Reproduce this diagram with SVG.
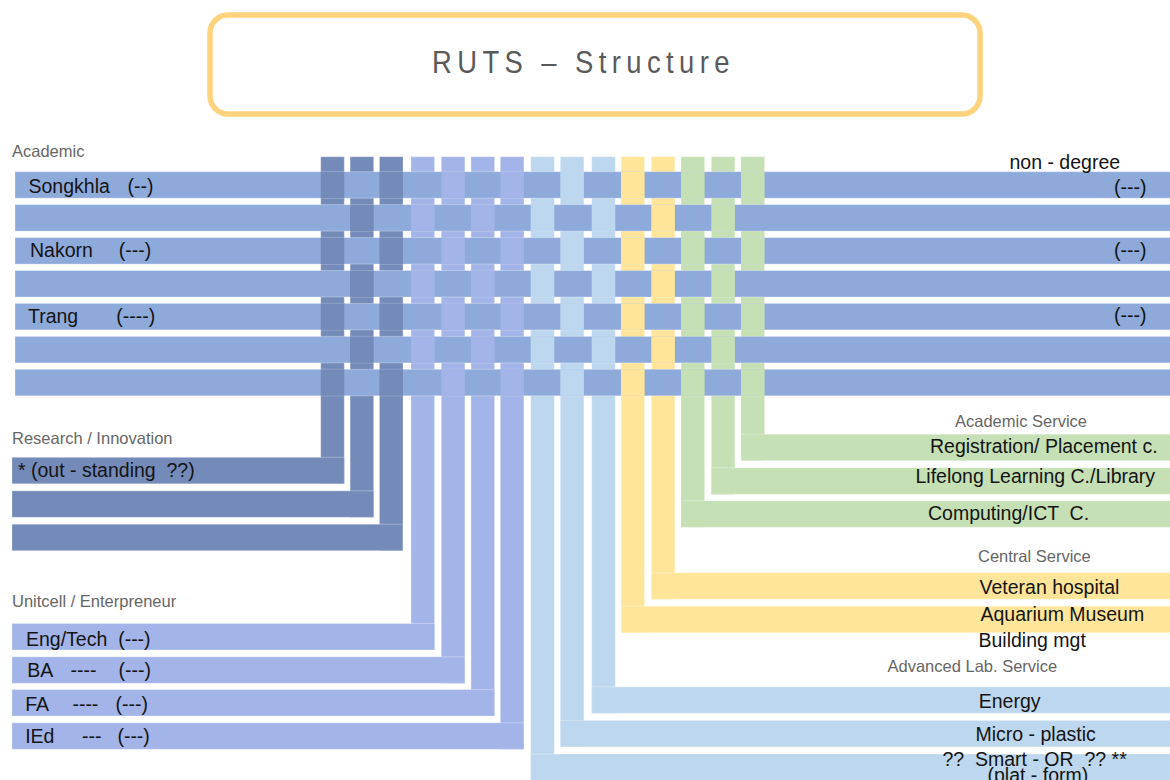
<svg xmlns="http://www.w3.org/2000/svg" width="1170" height="780" viewBox="0 0 1170 780" xml:space="preserve">
<style>
.ac{fill:#8eaadb}
.dk{fill:#748bb9}
.pu{fill:#a2b4e8}
.lb{fill:#bdd7ee}
.ye{fill:#ffe599}
.gr{fill:#c5e0b4}
.bar{stroke:#ffffff;stroke-opacity:0.3;stroke-width:1}
.t{font-family:"Liberation Sans",Arial,sans-serif;font-size:19.5px;fill:#141414;white-space:pre}
.g{font-family:"Liberation Sans",Arial,sans-serif;font-size:16.5px;fill:#666666;white-space:pre}
</style>
<rect width="1170" height="780" fill="#ffffff"/>

<g id="title">
<rect x="210" y="15" width="770" height="99" rx="18" ry="18" fill="#ffffff" stroke="#ffd37d" stroke-width="5.5"/>
<text transform="translate(432,73) scale(0.9,1)" font-family="Liberation Sans, Arial, sans-serif" font-size="30.5" letter-spacing="6" fill="#5a5a5a">RUTS – Structure</text>
</g>

<g id="columns">
<rect class="dk bar" x="320.7" y="156.7" width="23.6" height="327.1"/>
<rect class="dk bar" x="350.1" y="156.7" width="23.6" height="360.6"/>
<rect class="dk bar" x="379.4" y="156.7" width="23.6" height="394"/>
<rect class="pu bar" x="411" y="156.7" width="23.6" height="493.3"/>
<rect class="pu bar" x="441.3" y="156.7" width="23.6" height="526.6"/>
<rect class="pu bar" x="471" y="156.7" width="23.6" height="559.3"/>
<rect class="pu bar" x="500.3" y="156.7" width="23.6" height="592.6"/>
<rect class="lb bar" x="530.7" y="156.7" width="23.6" height="633.3"/>
<rect class="lb bar" x="560.3" y="156.7" width="23.6" height="590"/>
<rect class="lb bar" x="591.7" y="156.7" width="23.6" height="556.6"/>
<rect class="ye bar" x="621" y="156.7" width="23.6" height="476"/>
<rect class="ye bar" x="651.3" y="156.7" width="23.6" height="442.6"/>
<rect class="gr bar" x="681" y="156.7" width="23.6" height="370.6"/>
<rect class="gr bar" x="711.3" y="156.7" width="23.6" height="338"/>
<rect class="gr bar" x="741" y="156.7" width="23.6" height="304"/>
</g>

<g id="academic">
<g id="row1"><rect class="ac bar" x="15" y="171.7" width="1156" height="26.5"/></g>
<g id="row2"><rect class="ac bar" x="15" y="204.6" width="1156" height="26.5"/></g>
<g id="row3"><rect class="ac bar" x="15" y="237.6" width="1156" height="26.5"/></g>
<g id="row4"><rect class="ac bar" x="15" y="270.5" width="1156" height="26.5"/></g>
<g id="row5"><rect class="ac bar" x="15" y="303.4" width="1156" height="26.5"/></g>
<g id="row6"><rect class="ac bar" x="15" y="336.4" width="1156" height="26.5"/></g>
<g id="row7"><rect class="ac bar" x="15" y="369.3" width="1156" height="26.5"/></g>
</g>

<g id="weave-over">
<rect class="dk" x="320.7" y="171.7" width="23.6" height="26.5"/>
<rect class="dk" x="379.4" y="171.7" width="23.6" height="26.5"/>
<rect class="pu" x="441.3" y="171.7" width="23.6" height="26.5"/>
<rect class="pu" x="500.3" y="171.7" width="23.6" height="26.5"/>
<rect class="lb" x="560.3" y="171.7" width="23.6" height="26.5"/>
<rect class="ye" x="621" y="171.7" width="23.6" height="26.5"/>
<rect class="gr" x="681" y="171.7" width="23.6" height="26.5"/>
<rect class="gr" x="741" y="171.7" width="23.6" height="26.5"/>
<rect class="dk" x="350.1" y="204.6" width="23.6" height="26.5"/>
<rect class="pu" x="411" y="204.6" width="23.6" height="26.5"/>
<rect class="pu" x="471" y="204.6" width="23.6" height="26.5"/>
<rect class="lb" x="530.7" y="204.6" width="23.6" height="26.5"/>
<rect class="lb" x="591.7" y="204.6" width="23.6" height="26.5"/>
<rect class="ye" x="651.3" y="204.6" width="23.6" height="26.5"/>
<rect class="gr" x="711.3" y="204.6" width="23.6" height="26.5"/>
<rect class="dk" x="320.7" y="237.6" width="23.6" height="26.5"/>
<rect class="dk" x="379.4" y="237.6" width="23.6" height="26.5"/>
<rect class="pu" x="441.3" y="237.6" width="23.6" height="26.5"/>
<rect class="pu" x="500.3" y="237.6" width="23.6" height="26.5"/>
<rect class="lb" x="560.3" y="237.6" width="23.6" height="26.5"/>
<rect class="ye" x="621" y="237.6" width="23.6" height="26.5"/>
<rect class="gr" x="681" y="237.6" width="23.6" height="26.5"/>
<rect class="gr" x="741" y="237.6" width="23.6" height="26.5"/>
<rect class="dk" x="350.1" y="270.5" width="23.6" height="26.5"/>
<rect class="pu" x="411" y="270.5" width="23.6" height="26.5"/>
<rect class="pu" x="471" y="270.5" width="23.6" height="26.5"/>
<rect class="lb" x="530.7" y="270.5" width="23.6" height="26.5"/>
<rect class="lb" x="591.7" y="270.5" width="23.6" height="26.5"/>
<rect class="ye" x="651.3" y="270.5" width="23.6" height="26.5"/>
<rect class="gr" x="711.3" y="270.5" width="23.6" height="26.5"/>
<rect class="dk" x="320.7" y="303.4" width="23.6" height="26.5"/>
<rect class="dk" x="379.4" y="303.4" width="23.6" height="26.5"/>
<rect class="pu" x="441.3" y="303.4" width="23.6" height="26.5"/>
<rect class="pu" x="500.3" y="303.4" width="23.6" height="26.5"/>
<rect class="lb" x="560.3" y="303.4" width="23.6" height="26.5"/>
<rect class="ye" x="621" y="303.4" width="23.6" height="26.5"/>
<rect class="gr" x="681" y="303.4" width="23.6" height="26.5"/>
<rect class="gr" x="741" y="303.4" width="23.6" height="26.5"/>
<rect class="dk" x="350.1" y="336.4" width="23.6" height="26.5"/>
<rect class="pu" x="411" y="336.4" width="23.6" height="26.5"/>
<rect class="pu" x="471" y="336.4" width="23.6" height="26.5"/>
<rect class="lb" x="530.7" y="336.4" width="23.6" height="26.5"/>
<rect class="lb" x="591.7" y="336.4" width="23.6" height="26.5"/>
<rect class="ye" x="651.3" y="336.4" width="23.6" height="26.5"/>
<rect class="gr" x="711.3" y="336.4" width="23.6" height="26.5"/>
<rect class="dk" x="320.7" y="369.3" width="23.6" height="26.5"/>
<rect class="dk" x="379.4" y="369.3" width="23.6" height="26.5"/>
<rect class="pu" x="441.3" y="369.3" width="23.6" height="26.5"/>
<rect class="pu" x="500.3" y="369.3" width="23.6" height="26.5"/>
<rect class="lb" x="560.3" y="369.3" width="23.6" height="26.5"/>
<rect class="ye" x="621" y="369.3" width="23.6" height="26.5"/>
<rect class="gr" x="681" y="369.3" width="23.6" height="26.5"/>
<rect class="gr" x="741" y="369.3" width="23.6" height="26.5"/>
</g>

<g id="academic-labels">
<text class="g" x="12" y="156.5">Academic</text>
<text class="t" y="193"><tspan x="28.5">Songkhla</tspan><tspan x="127.5">(--)</tspan></text>
<text class="t" y="257.3"><tspan x="30">Nakorn</tspan><tspan x="118.8">(---)</tspan></text>
<text class="t" y="322.7"><tspan x="28">Trang</tspan><tspan x="116.2">(----)</tspan></text>
<text class="t" x="1009.5" y="169.3">non - degree</text>
<text class="t" x="1114" y="193.7">(---)</text>
<text class="t" x="1114" y="257">(---)</text>
<text class="t" x="1114" y="321.5">(---)</text>
</g>

<g id="research">
<text class="g" x="12" y="444.3">Research / Innovation</text>
<g id="research1"><rect class="dk bar" x="12" y="457.3" width="332.3" height="26.5"/><text class="t" x="18" y="477">* (out - standing  ??)</text></g>
<g id="research2"><rect class="dk bar" x="12" y="490.8" width="361.7" height="26.5"/></g>
<g id="research3"><rect class="dk bar" x="12" y="524.2" width="390.8" height="26.5"/></g>
</g>

<g id="unitcell">
<text class="g" x="12" y="606.5">Unitcell / Enterpreneur</text>
<g id="engtech"><rect class="pu bar" x="12" y="623.5" width="422.6" height="26.5"/><text class="t" x="26" y="646">Eng/Tech  (---)</text></g>
<g id="ba"><rect class="pu bar" x="12" y="656.8" width="452.9" height="26.5"/><text class="t" y="676.7"><tspan x="27.2">BA</tspan><tspan x="70.6">----</tspan><tspan x="118.5">(---)</tspan></text></g>
<g id="fa"><rect class="pu bar" x="12" y="689.5" width="482.6" height="26.5"/><text class="t" y="711"><tspan x="25.2">FA</tspan><tspan x="72.4">----</tspan><tspan x="115.5">(---)</tspan></text></g>
<g id="ied"><rect class="pu bar" x="12" y="722.8" width="511.9" height="26.5"/><text class="t" y="743.3"><tspan x="25.2">IEd</tspan><tspan x="82.1">---</tspan><tspan x="117.4">(---)</tspan></text></g>
</g>

<g id="academic-service">
<text class="g" x="955" y="426.7">Academic Service</text>
<g id="registration"><rect class="gr bar" x="741" y="434.2" width="430" height="26.5"/><text class="t" x="930" y="453.3">Registration/ Placement c.</text></g>
<g id="lifelong"><rect class="gr bar" x="711.3" y="467.8" width="459.7" height="26.5"/><text class="t" x="915.5" y="483.3">Lifelong Learning C./Library</text></g>
<g id="computing"><rect class="gr bar" x="681" y="500.8" width="490" height="26.5"/><text class="t" x="928" y="520">Computing/ICT  C.</text></g>
</g>

<g id="central-service">
<text class="g" x="978" y="562">Central Service</text>
<g id="veteran"><rect class="ye bar" x="651.3" y="572.8" width="519.7" height="26.5"/><text class="t" x="979.5" y="594">Veteran hospital</text></g>
<g id="aquarium"><rect class="ye bar" x="621" y="606.2" width="550" height="26.5"/><text class="t" x="980.5" y="620.7">Aquarium Museum</text></g>
<g id="building"><text class="t" x="978.5" y="646.7">Building mgt</text></g>
</g>

<g id="advanced-lab">
<text class="g" x="887.5" y="671.7">Advanced Lab. Service</text>
<g id="energy"><rect class="lb bar" x="591.7" y="686.8" width="579.3" height="26.5"/><text class="t" x="978.7" y="707.7">Energy</text></g>
<g id="micro"><rect class="lb bar" x="560.3" y="720.4" width="610.7" height="26.5"/><text class="t" x="975.5" y="741">Micro - plastic</text></g>
<g id="smart"><rect class="lb bar" x="530.7" y="754" width="640.3" height="40"/><text class="t" x="942.5" y="766">??  Smart - OR  ?? **</text><text class="t" x="987.5" y="782">(plat - form)</text></g>
</g>
</svg>
